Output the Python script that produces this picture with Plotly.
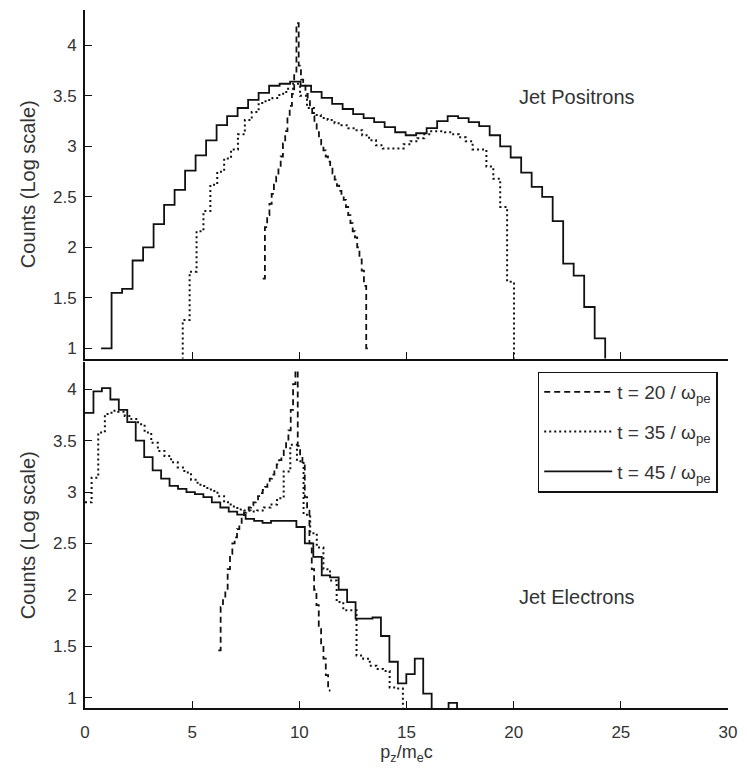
import numpy as np
import plotly.graph_objects as go
from plotly.subplots import make_subplots

# ---------------------------------------------------------------
# Momentum spectra p_z/m_e c of jet particles, log10(counts) per bin.
# Each histogram: first bin edge, bin width, and the bin heights.
# A height of 0 means a single count (log10(1)), below the plotted range.
# ---------------------------------------------------------------

# Jet positrons
pos_t20_start, pos_t20_width = 8.29, 0.105
pos_t20 = [1.69, 2.20, 2.32, 2.43, 2.53, 2.62, 2.70, 2.79, 2.90, 3.03,
           3.15, 3.30, 3.40, 3.52, 3.72, 4.22, 3.80, 3.66, 3.60, 3.52,
           3.46, 3.38, 3.30, 3.22, 3.15, 3.08, 3.02, 2.96, 2.90, 2.85,
           2.79, 2.73, 2.67, 2.61, 2.56, 2.52, 2.47, 2.40, 2.32, 2.24,
           2.16, 2.10, 2.00, 1.88, 1.77, 1.62, 1.00, 1.00]

pos_t35_start, pos_t35_width = 4.56, 0.322
pos_t35 = [1.28, 1.76, 2.16, 2.36, 2.62, 2.75, 2.88, 2.97, 3.12, 3.26,
           3.34, 3.43, 3.46, 3.48, 3.52, 3.57, 3.62, 3.50, 3.38, 3.31,
           3.28, 3.26, 3.23, 3.21, 3.18, 3.16, 3.11, 3.06, 3.01, 2.98,
           2.98, 2.98, 3.02, 3.05, 3.08, 3.12, 3.15, 3.15, 3.14, 3.12,
           3.09, 3.05, 2.97, 2.97, 2.80, 2.68, 2.40, 1.66]

pos_t45_start, pos_t45_width = 0.75, 0.49
pos_t45 = [1.00, 1.55, 1.59, 1.87, 2.00, 2.23, 2.42, 2.57, 2.76, 2.91,
           3.06, 3.21, 3.30, 3.38, 3.46, 3.53, 3.60, 3.62, 3.64, 3.60,
           3.54, 3.48, 3.42, 3.37, 3.32, 3.28, 3.24, 3.19, 3.14, 3.11,
           3.13, 3.18, 3.25, 3.30, 3.28, 3.24, 3.20, 3.11, 3.00, 2.89,
           2.74, 2.60, 2.50, 2.26, 1.84, 1.72, 1.41, 1.10]

# Jet electrons
ele_t20_start, ele_t20_width = 6.22, 0.109
ele_t20 = [1.46, 1.88, 1.95, 2.05, 2.25, 2.40, 2.50, 2.56, 2.64, 2.70,
           2.76, 2.80, 2.82, 2.85, 2.87, 2.90, 2.93, 2.96, 2.99, 3.02,
           3.05, 3.09, 3.13, 3.17, 3.22, 3.27, 3.31, 3.36, 3.42, 3.50,
           3.60, 3.80, 4.05, 4.18, 3.45, 3.35, 3.28, 2.95, 2.82, 2.50,
           2.25, 2.05, 1.90, 1.70, 1.52, 1.38, 1.22, 1.07]

ele_t35_start, ele_t35_width = 0.0, 0.309
ele_t35 = [2.90, 3.14, 3.58, 3.76, 3.79, 3.78, 3.74, 3.71, 3.66, 3.58,
           3.48, 3.40, 3.35, 3.29, 3.24, 3.19, 3.12, 3.07, 3.04, 3.01,
           2.96, 2.90, 2.86, 2.83, 2.82, 2.81, 2.82, 2.85, 2.88, 2.94,
           3.20, 3.46, 3.30, 2.78, 2.60, 2.46, 2.25, 2.14, 1.93, 1.85,
           1.85, 1.41, 1.38, 1.31, 1.28, 1.26, 1.10, 1.09]

ele_t45_start, ele_t45_width = 0.0, 0.3945
ele_t45 = [3.77, 3.98, 4.01, 3.90, 3.80, 3.68, 3.50, 3.34, 3.21, 3.13,
           3.06, 3.03, 3.00, 2.98, 2.95, 2.90, 2.85, 2.81, 2.78, 2.74,
           2.72, 2.70, 2.72, 2.72, 2.72, 2.66, 2.50, 2.37, 2.19, 2.17,
           2.05, 1.93, 1.77, 1.77, 1.78, 1.60, 1.35, 1.14, 1.23, 1.38,
           1.04, 0.00, 0.00, 0.95]

series_names = ["t = 20 / ω<sub>pe</sub>", "t = 35 / ω<sub>pe</sub>", "t = 45 / ω<sub>pe</sub>"]
panel_labels = ["Jet Positrons", "Jet Electrons"]
x_ticks = [0, 5, 10, 15, 20, 25, 30]
y_ticks = [1, 1.5, 2, 2.5, 3, 3.5, 4]

INK = "#111111"
TEXT = "#333333"
FONT = "Liberation Sans, Arial, Helvetica, sans-serif"
dashes = ["6px,4px", "2px,3px", "solid"]
widths = [1.8, 2.0, 1.8]


def stairs(start, width, heights, rise=False, drop=False):
    """Histogram outline: x = bin edges, y = bin heights (drawn with 'hv')."""
    n = len(heights)
    edges = start + width * np.arange(n + 1)
    x = list(edges)
    y = list(heights) + [0.0 if drop else heights[-1]]
    if rise:
        x = [edges[0]] + x
        y = [0.0] + y
    return x, y


fig = make_subplots(rows=2, cols=1, shared_xaxes=True)

top = [stairs(pos_t20_start, pos_t20_width, pos_t20),
       stairs(pos_t35_start, pos_t35_width, pos_t35, rise=True, drop=True),
       stairs(pos_t45_start, pos_t45_width, pos_t45, drop=True)]
bottom = [stairs(ele_t20_start, ele_t20_width, ele_t20),
          stairs(ele_t35_start, ele_t35_width, ele_t35, drop=True),
          stairs(ele_t45_start, ele_t45_width, ele_t45, drop=True)]

for i, (x, y) in enumerate(top):
    fig.add_trace(go.Scatter(x=x, y=y, mode="lines", line_shape="hv",
                             line=dict(color=INK, width=widths[i], dash=dashes[i]),
                             name=series_names[i], showlegend=False,
                             hoverinfo="skip"), row=1, col=1)
for i, (x, y) in enumerate(bottom):
    fig.add_trace(go.Scatter(x=x, y=y, mode="lines", line_shape="hv",
                             line=dict(color=INK, width=widths[i], dash=dashes[i]),
                             name=series_names[i], showlegend=True,
                             legendgroup=f"g{i}",
                             hoverinfo="skip"), row=2, col=1)

axis_common = dict(ticks="inside", ticklen=7, tickwidth=1.4, tickcolor=INK,
                   showline=True, linecolor=INK, linewidth=1.8, mirror=False,
                   showgrid=False, zeroline=False,
                   tickfont=dict(family=FONT, size=17, color=TEXT))

fig.update_xaxes(range=[0, 30], tickvals=x_ticks, **axis_common)
fig.update_xaxes(showticklabels=False, row=1, col=1)
fig.update_xaxes(ticklabelstandoff=8,
                 title=dict(text="p<sub>z</sub>/m<sub>e</sub>c", standoff=4,
                            font=dict(family=FONT, size=18, color=TEXT)),
                 row=2, col=1)

ytitle = dict(text="Counts (Log scale)", standoff=12,
              font=dict(family=FONT, size=20, color=TEXT))
fig.update_yaxes(tickvals=y_ticks, title=ytitle, ticklabelstandoff=3, **axis_common)
fig.update_yaxes(range=[0.9, 4.35], domain=[0.5007, 1.0], row=1, col=1)
fig.update_yaxes(range=[0.9, 4.26], domain=[0.0, 0.495], row=2, col=1)

fig.add_annotation(x=22.96, y=3.49, xref="x", yref="y", text=panel_labels[0],
                   showarrow=False, font=dict(family=FONT, size=20, color=TEXT))
fig.add_annotation(x=22.96, y=1.98, xref="x2", yref="y2", text=panel_labels[1],
                   showarrow=False, font=dict(family=FONT, size=20, color=TEXT))

fig.update_layout(
    width=747, height=769,
    margin=dict(l=85, r=17, t=10, b=60),
    paper_bgcolor="white", plot_bgcolor="white",
    showlegend=True,
    legend=dict(x=0.984, y=0.482, xanchor="right", yanchor="top",
                bgcolor="white", bordercolor=INK, borderwidth=1.5,
                font=dict(family=FONT, size=19, color=TEXT),
                itemwidth=68, tracegroupgap=12),
)

fig.write_html("out.html")
